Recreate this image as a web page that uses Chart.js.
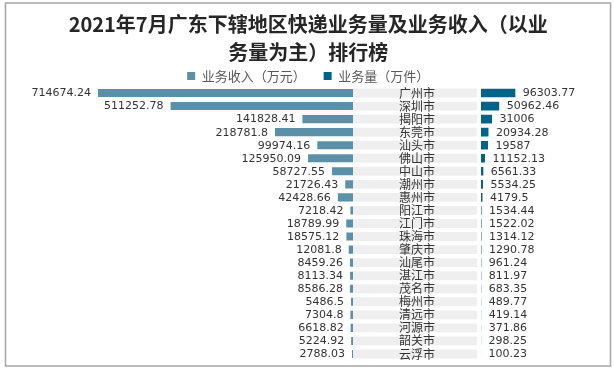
<!DOCTYPE html>
<html>
<head>
<meta charset="utf-8">
<script src="https://cdn.jsdelivr.net/npm/chart.js@4.4.0/dist/chart.umd.min.js"></script>
<style>
  html, body { margin: 0; padding: 0; background: #fff; }
  #wrap { position: relative; width: 614px; height: 369px; }
</style>
</head>
<body>
<div id="wrap"><canvas id="rankChart"></canvas></div>
<script>
// Data
const cities = ['广州市', '深圳市', '揭阳市', '东莞市', '汕头市', '佛山市', '中山市', '潮州市', '惠州市', '阳江市',
  '江门市', '珠海市', '肇庆市', '汕尾市', '湛江市', '茂名市', '梅州市', '清远市', '河源市', '韶关市', '云浮市'];
const revenue = [714674.24, 511252.78, 141828.41, 218781.8, 99974.16, 125950.09, 58727.55, 21726.43, 42428.66, 7218.42,
  18789.99, 18575.12, 12081.8, 8459.26, 8113.34, 8586.28, 5486.5, 7304.8, 6618.82, 5224.92, 2788.03];
const volume = [96303.77, 50962.46, 31006, 20934.28, 19587, 11152.13, 6561.33, 5534.25, 4179.5, 1534.44,
  1522.02, 1314.12, 1290.78, 961.24, 811.97, 683.35, 489.77, 419.14, 371.86, 298.25, 100.23];
const seriesNames = ['业务收入（万元）', '业务量（万件）'];
const titleLines = ['2021年7月广东下辖地区快递业务量及业务收入（以业', '务量为主）排行榜'];

const revColor = '#5b90a8';
const volColor = '#006387';
const bandColor = '#efefef';

// white page + grey frame
const frame = {
  id: 'frame',
  beforeDraw(chart) {
    const ctx = chart.ctx;
    ctx.save();
    ctx.fillStyle = '#fff';
    ctx.fillRect(0, 0, chart.width, chart.height);
    ctx.strokeStyle = '#a6a6a6';
    ctx.lineWidth = 1.5;
    ctx.strokeRect(5.5, 3, 605, 363);
    ctx.restore();
  }
};

// legend sits a bit tighter on the plot than Chart.js allows
const legendTrim = {
  id: 'legendTrim',
  beforeInit(chart) {
    const legend = chart.legend;
    if (!legend) return;
    const fit = legend.fit;
    legend.fit = function () {
      fit.call(this);
      this.height -= 6;
    };
  }
};

// value labels + city names
const labels = {
  id: 'labels',
  afterDatasetsDraw(chart) {
    const ctx = chart.ctx;
    ctx.save();
    ctx.textBaseline = 'middle';
    ctx.fillStyle = '#333';
    ctx.font = '11px "DejaVu Sans"';

    ctx.textAlign = 'right';
    chart.getDatasetMeta(0).data.forEach((bar, i) => {
      ctx.fillText(String(revenue[i]), bar.x - 7, bar.y + 0.5);
    });

    ctx.textAlign = 'left';
    chart.getDatasetMeta(2).data.forEach((bar, i) => {
      ctx.fillText(String(volume[i]), bar.x + 7.5, bar.y + 0.5);
    });

    ctx.textAlign = 'center';
    ctx.font = '12px "Noto Sans CJK SC"';
    chart.getDatasetMeta(1).data.forEach((bar, i) => {
      ctx.fillText(cities[i], (bar.base + bar.x) / 2 + 2, bar.y);
    });
    ctx.restore();
  }
};

const ctx = document.getElementById('rankChart').getContext('2d');
new Chart(ctx, {
  type: 'bar',
  data: {
    labels: cities,
    datasets: [{
      label: seriesNames[0],
      data: revenue,
      xAxisID: 'xRev',
      backgroundColor: revColor,
      borderWidth: 0,
      grouped: false,
      categoryPercentage: 1,
      barPercentage: 0.62
    }, {
      label: 'band',
      data: cities.map(() => 0.97),
      xAxisID: 'xBand',
      backgroundColor: bandColor,
      borderWidth: 0,
      grouped: false,
      categoryPercentage: 1,
      barPercentage: 0.68
    }, {
      label: seriesNames[1],
      data: volume,
      xAxisID: 'xVol',
      backgroundColor: volColor,
      borderWidth: 0,
      grouped: false,
      categoryPercentage: 1,
      barPercentage: 0.66
    }]
  },
  options: {
    indexAxis: 'y',
    responsive: true,
    maintainAspectRatio: false,
    animation: false,
    layout: { padding: { top: 0, bottom: 8.5, left: 14, right: 11.7 } },
    scales: {
      y: { display: false, grid: { display: false } },
      xRev: { type: 'linear', display: false, reverse: true, min: 0, max: 950000, stack: 'row', stackWeight: 339 },
      xBand: { type: 'linear', display: false, min: 0, max: 1, stack: 'row', stackWeight: 128 },
      xVol: { type: 'linear', display: false, min: 0, max: 340000, stack: 'row', stackWeight: 121.3 }
    },
    plugins: {
      title: {
        display: true,
        text: titleLines,
        color: '#262626',
        font: { family: '"Noto Sans CJK SC"', size: 20, weight: 'bold', lineHeight: 1.4 },
        padding: { top: 10, bottom: -14.5 }
      },
      legend: {
        position: 'top',
        labels: {
          color: '#595959',
          font: { family: '"Noto Sans CJK SC"', size: 13 },
          boxWidth: 8,
          boxHeight: 8,
          padding: 18,
          filter: item => item.datasetIndex !== 1
        }
      },
      tooltip: { enabled: false }
    }
  },
  plugins: [frame, legendTrim, labels]
});
</script>
</body>
</html>
